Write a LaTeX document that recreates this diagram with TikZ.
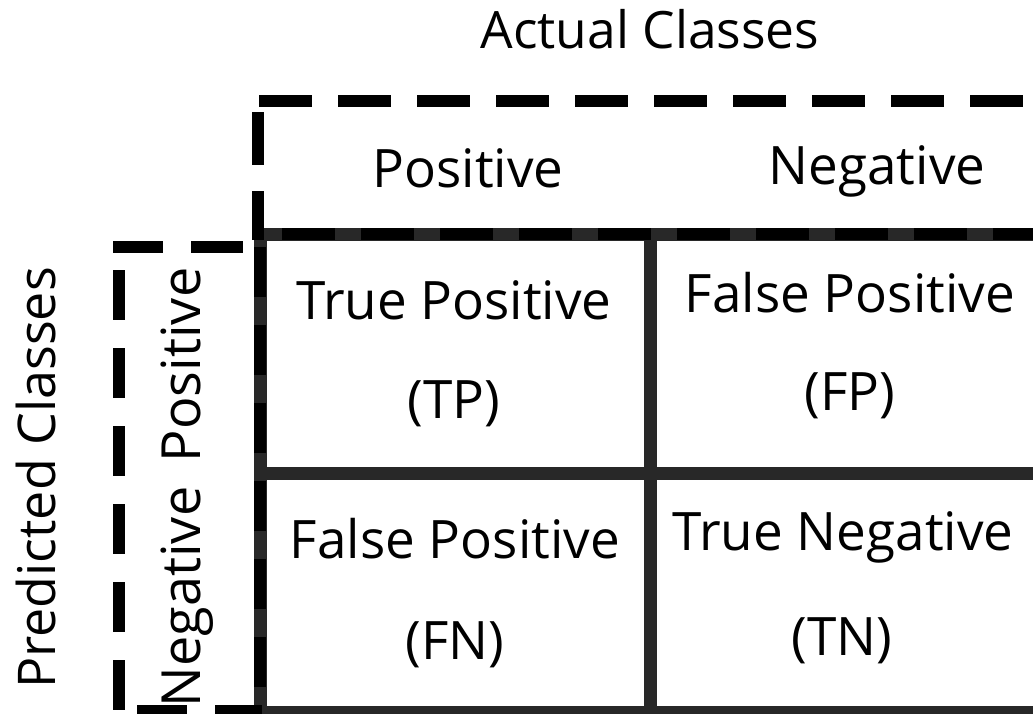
\documentclass[tikz,border=0pt]{standalone}
\usepackage{fontspec}
\setmainfont{Open Sans}
\definecolor{gridgray}{HTML}{282828}
\tikzset{
  solidline/.style={draw=gridgray, line width=13pt, line cap=butt},
  dashline/.style={draw=black, line width=12pt, line cap=butt, dash pattern=on 53pt off 26pt},
  dashseg/.style={draw=black, line width=12pt, line cap=butt},
  celltext/.style={inner sep=0pt, anchor=base, font=\fontsize{53}{60}\selectfont},
  sidetext/.style={inner sep=0pt, anchor=base, rotate=90, font=\fontsize{54}{60}\selectfont},
  predtext/.style={inner sep=0pt, anchor=base, rotate=90, font=\fontsize{52}{60}\selectfont},
  headtext/.style={inner sep=0pt, anchor=base, font=\fontsize{51.5}{56}\selectfont},
}
\begin{document}
\begin{tikzpicture}[x=1pt,y=-1pt]
\useasboundingbox[fill=white] (0,0) rectangle (1033,713);
\begin{scope}
\clip (0,0) rectangle (1033,713);
% grid lines
\coordinate (g1) at (260,234);
\coordinate (g2) at (1045,234);
\coordinate (g3) at (260,473);
\coordinate (g4) at (1045,473);
\coordinate (g5) at (254,712);
\coordinate (g6) at (1045,712);
\coordinate (v1) at (260,228);
\coordinate (v2) at (260,720);
\coordinate (v3) at (650,228);
\coordinate (v4) at (650,720);
\draw[solidline] (g1) -- (g2);
\draw[solidline] (g3) -- (g4);
\draw[solidline] (g5) -- (g6);
\draw[solidline] (v1) -- (v2);
\draw[solidline] (v3) -- (v4);
% top dashed box (actual classes)
\coordinate (t1) at (259,101);
\coordinate (t2) at (1045,101);
\coordinate (t3) at (258,112);
\coordinate (t4) at (258,240);
\coordinate (t5) at (282,234);
\coordinate (t6) at (1045,234);
\draw[dashline] (t1) -- (t2);
\draw[dashline] (t3) -- (t4);
\draw[dashline] (t5) -- (t6);
% left dashed box (predicted classes), dash by dash
\draw[dashseg] (113,247) -- (163,247);
\draw[dashseg] (191,247) -- (243,247);
\foreach \s in {270,348,426,504,582,660}
  \draw[dashseg] (119,\s) -- (119,\s+50);
\foreach \s in {247,325,403,481,559,637,715}
  \draw[dashseg] (260,\s) -- (260,\s+50);
\draw[dashseg] (137,711) -- (187,711);
\draw[dashseg] (215,711) -- (262,711);
\end{scope}
% texts
\node[headtext] (actual) at (650,48) {Actual Classes};
\node[celltext] (hpos) at (468,187) {Positive};
\node[celltext] (hneg) at (877,184) {Negative};
\node[predtext] (pred) at (55,478) {Predicted Classes};
\node[sidetext] (vpos) at (200,365) {Positive};
\node[sidetext] (vneg) at (200,597) {Negative};
\node[celltext] (tp1) at (454,319) {True Positive};
\node[celltext] (tp2) at (454,418) {(TP)};
\node[celltext] (fp1) at (850,312) {False Positive};
\node[celltext] (fp2) at (850,410) {(FP)};
\node[celltext] (fn1) at (455,558) {False Positive};
\node[celltext] (fn2) at (455,659) {(FN)};
\node[celltext] (tn1) at (843,550) {True Negative};
\node[celltext] (tn2) at (842,655) {(TN)};
\end{tikzpicture}
\end{document}
